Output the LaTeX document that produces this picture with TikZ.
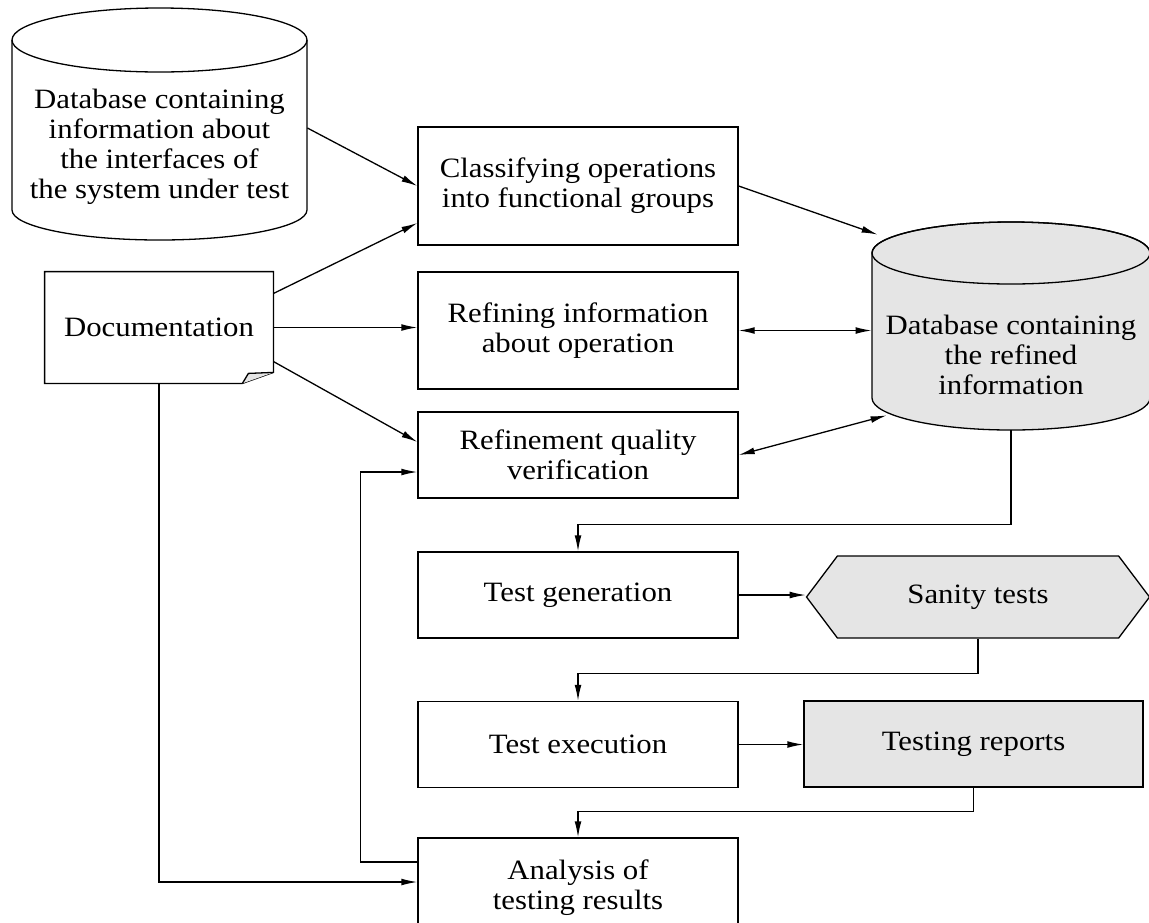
\documentclass[tikz,border=0pt]{standalone}
\usepackage{fontspec}
\setmainfont{Liberation Serif}[FakeStretch=1.1]
\usetikzlibrary{arrows.meta,shapes.symbols}

\begin{document}
\begin{tikzpicture}[x=0.5pt, y=-0.5pt, >={Latex[length=8pt,width=3.4pt]},
    every node/.style={font=\fontsize{14}{15}\selectfont, align=center},
    outline/.style={line width=0.65pt},
    proc/.style={draw, outline, minimum width=160pt, minimum height=43pt},
    store/.style={draw, outline, fill=gray!20},
    flow/.style={->, outline}]
  \useasboundingbox (0,0) rectangle (1149,922);

  % databases, drawn by hand
  \draw[outline] (12,40) -- (12,210) arc[start angle=180, end angle=360, x radius=73.75pt, y radius=15pt] -- (307,40);
  \draw[outline] (159.5,40) ellipse [x radius=73.75pt, y radius=16pt];
  \filldraw[store] (872,253) -- (872,398) arc[start angle=180, end angle=360, x radius=69.5pt, y radius=16pt] -- (1150,253) arc[start angle=0, end angle=180, x radius=69.5pt, y radius=15.5pt] -- cycle;
  \draw[outline] (1011,253) ellipse [x radius=69.5pt, y radius=15.5pt];

  \node (dbIfaces) [minimum width=147.5pt, minimum height=93pt] at (159.5,147) {Database containing\\information about\\the interfaces of\\the system under test};
  \node (dbRefined) [minimum width=139pt, minimum height=75pt] at (1011,355) {Database containing\\the refined\\information};

  % documentation with folded corner
  \node (doc) [minimum width=114pt, minimum height=55.5pt] at (159,327.5) {Documentation};
  \draw[outline] (doc.north west) -- (doc.north east) -- ([yshift=5.5pt]doc.south east) -- ([xshift=-15.5pt]doc.south east) -- (doc.south west) -- cycle;
  \filldraw[store] ([xshift=-15.5pt]doc.south east) -- ([xshift=-12.5pt,yshift=5pt]doc.south east) -- ([yshift=5.5pt]doc.south east);

  \node[proc, minimum height=59pt] (classify) at (578,186) {Classifying operations\\into functional groups};
  \node[proc, minimum height=58.5pt] (refine) at (578,330.5) {Refining information\\about operation};
  \node[proc] (verify) at (578,455) {Refinement quality\\verification};
  \node[proc] (testgen) at (578,595) {Test generation};
  \node[proc] (testexec) at (578,744.5) {Test execution};
  \node[proc, minimum height=50pt] (analysis) at (578,888) {Analysis of\\testing results};

  \node[store, signal, signal to=west and east, signal pointer angle=106, minimum width=171.5pt, minimum height=41pt] (sanity) at (978,597) {Sanity tests};
  \node[proc, store, minimum width=169.5pt] (reports) at (973.5,744) {Testing reports};

  \draw[flow] ([yshift=9.5pt]dbIfaces.east) -- (classify.west);
  \draw[flow] ([yshift=17pt]doc.east) -- ([yshift=-18.5pt]classify.west);
  \draw[flow] (doc.east) -- (doc.east -| refine.west);
  \draw[flow] ([yshift=-17pt]doc.east) -- ([yshift=6.5pt]verify.west);
  \draw[flow] (classify.east) -- ([xshift=3pt,yshift=22.5pt]dbRefined.north west);
  \draw[<->, outline] (refine.east) -- (refine.east -| dbRefined.west);
  \draw[<->, outline] (verify.east) -- ([xshift=7.5pt,yshift=7.5pt]dbRefined.south west);

  \draw[flow] (dbRefined.south) -- ++(0,94) -| (testgen.north);
  \draw[flow] (testgen.east) -- (testgen.east -| sanity.west);
  \draw[flow] (sanity.south) -- ++(0,35) -| (testexec.north);
  \draw[flow] (testexec.east) -- (testexec.east -| reports.west);
  \draw[flow] (reports.south) -- ++(0,24) -| (analysis.north);

  \draw[flow] (doc.south) |- ([yshift=3pt]analysis.west);
  \draw[flow] ([yshift=13pt]analysis.west) -- ++(-57,0) |- ([yshift=-8.5pt]verify.west);
\end{tikzpicture}
\end{document}
